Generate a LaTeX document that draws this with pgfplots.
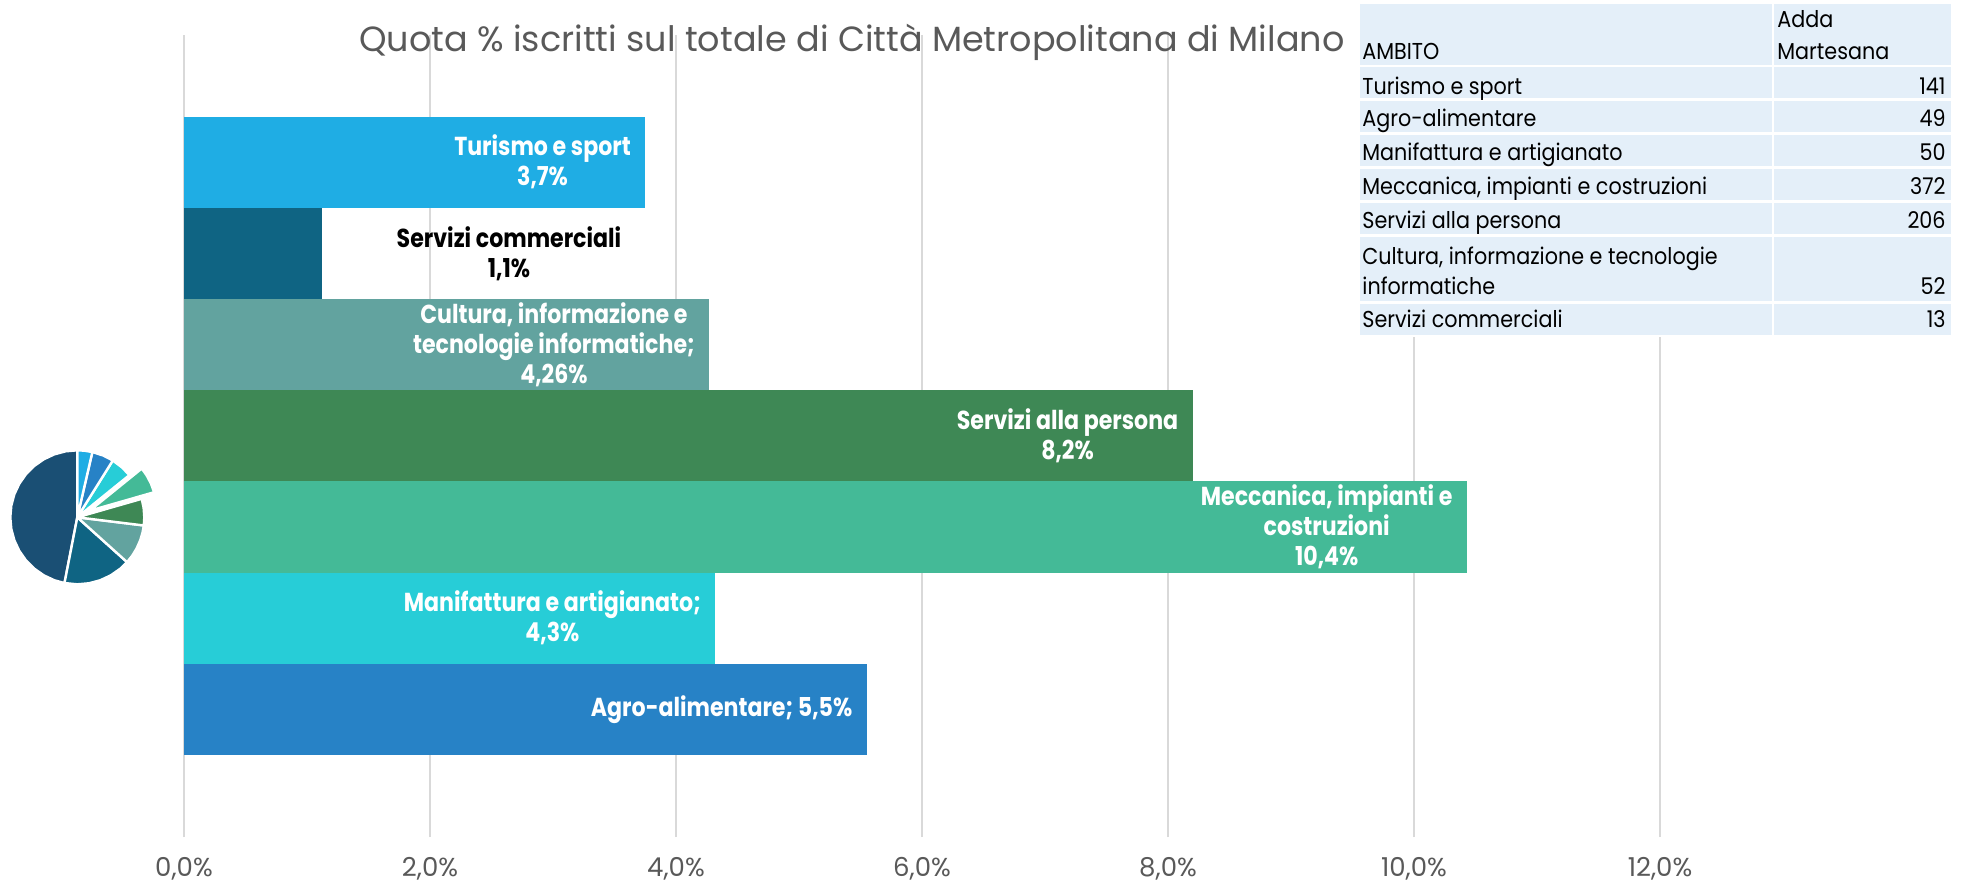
\documentclass[border=0pt]{standalone}
\usepackage{pgfplots}
\pgfplotsset{compat=1.18}
\usepgfplotslibrary{polar}
\usepackage{fontspec}
\setmainfont{Poppins}[FakeStretch=0.9]
\newfontfamily\titlefont{Poppins}
\newfontfamily\tickfont{Poppins}
\newfontfamily\lblfont{Poppins}[FakeStretch=0.85]
\definecolor{cTur}{HTML}{1FADE4}
\definecolor{cSC}{HTML}{0F6483}
\definecolor{cCul}{HTML}{62A39F}
\definecolor{cSP}{HTML}{3E8855}
\definecolor{cMec}{HTML}{44BA97}
\definecolor{cMan}{HTML}{27CDD7}
\definecolor{cAgr}{HTML}{2782C6}
\definecolor{cNavy}{HTML}{1A4F74}
\definecolor{gridgray}{HTML}{D9D9D9}
\definecolor{tickgray}{HTML}{595959}
\definecolor{tbl}{HTML}{E4EFF9}
\begin{document}
\begin{tikzpicture}
\path[use as bounding box] (0,0) rectangle (983pt,442.5pt);
\begin{axis}[
  at={(92pt,24pt)}, anchor=south west,
  scale only axis, width=738pt, height=401pt,
  xmin=0, xmax=12, ymin=-1.4, ymax=7.395,
  xtick={0,2,4,6,8,10,12},
  xticklabels={{0,0\%},{2,0\%},{4,0\%},{6,0\%},{8,0\%},{10,0\%},{12,0\%}},
  ytick=\empty,
  xmajorgrids, major grid style={draw=gridgray, line width=0.75pt},
  axis line style={draw=none}, tick style={draw=none},
  xticklabel style={font=\tickfont\fontsize{13}{15}\selectfont, text=tickgray, anchor=center, yshift=-16pt},
  mybar/.style={xbar, bar shift=0pt, bar width=45.6pt, draw=none},
  lblin/.style={every node near coord/.append style={anchor=east, xshift=-7pt, text=white}},
  every node near coord/.append style={font=\lblfont\bfseries\fontsize{13}{15}\selectfont, align=center, inner sep=0pt},
]
\addplot[mybar, fill=cTur, lblin, nodes near coords={Turismo e sport\\3,7\%}] coordinates {(3.75,6)};
\addplot[mybar, fill=cSC, nodes near coords={Servizi commerciali\\1,1\%},
  every node near coord/.append style={anchor=center, xshift=93.6pt, text=black}] coordinates {(1.12,5)};
\addplot[mybar, fill=cCul, lblin, nodes near coords={Cultura, informazione e\\tecnologie informatiche;\\4,26\%}] coordinates {(4.27,4)};
\addplot[mybar, fill=cSP, lblin, nodes near coords={Servizi alla persona\\8,2\%}] coordinates {(8.20,3)};
\addplot[mybar, fill=cMec, lblin, nodes near coords={Meccanica, impianti e\\costruzioni\\10,4\%}] coordinates {(10.43,2)};
\addplot[mybar, fill=cMan, lblin, nodes near coords={Manifattura e artigianato;\\4,3\%}] coordinates {(4.32,1)};
\addplot[mybar, fill=cAgr, lblin, nodes near coords={Agro-alimentare; 5,5\%}] coordinates {(5.55,0)};
\end{axis}

% pie
\begin{polaraxis}[
  at={(38.65pt,183.85pt)}, anchor=center,
  scale only axis, width=67pt, height=67pt,
  xmin=0, xmax=360, ymin=0, ymax=1, hide axis, clip=false,
  slice/.style={draw=white, line width=1.2pt, line join=round},
]
\addplot[slice, fill=cNavy] coordinates {(0,0) (90,1) (100,1) (110,1) (120,1) (130,1) (140,1) (150,1) (160,1) (170,1) (180,1) (190,1) (200,1) (210,1) (220,1) (230,1) (240,1) (250,1) (259,1)} -- cycle;
\addplot[slice, fill=cSC] coordinates {(0,0) (-101,1) (-90,1) (-80,1) (-70,1) (-60,1) (-50,1) (-42,1)} -- cycle;
\addplot[slice, fill=cCul] coordinates {(0,0) (-42,1) (-35,1) (-28,1) (-20,1) (-13,1) (-7,1)} -- cycle;
\addplot[slice, fill=cSP] coordinates {(0,0) (-7,1) (0,1) (8,1) (16,1)} -- cycle;
\addplot[slice, fill=cMec, xshift=6.2pt, yshift=3.3pt] coordinates {(0,0) (16,1) (24,1) (32,1) (39,1)} -- cycle;
\addplot[slice, fill=cMan] coordinates {(0,0) (39,1) (48,1) (58,1)} -- cycle;
\addplot[slice, fill=cAgr] coordinates {(0,0) (58,1) (67,1) (77,1)} -- cycle;
\addplot[slice, fill=cTur] coordinates {(0,0) (77,1) (84,1) (90,1)} -- cycle;
\end{polaraxis}

% title
\node[anchor=base, font=\titlefont\fontsize{17.5}{20}\selectfont, text=tickgray, inner sep=0pt] at (426pt,416.5pt) {Quota \% iscritti sul totale di Città Metropolitana di Milano};

% table
\fill[white] (679pt,274pt) rectangle (977pt,441.5pt);
\foreach \t/\b in {440.5pt/410.2pt, 409pt/393.3pt, 392.1pt/376.3pt, 375.1pt/359.3pt, 358.1pt/342.3pt, 341.1pt/325.4pt, 324.2pt/291.8pt, 290.6pt/275.2pt}{
  \fill[tbl] (680pt,\b) rectangle (886pt,\t);
  \fill[tbl] (887.2pt,\b) rectangle (975.5pt,\t);
}
\begin{scope}[every node/.style={inner sep=0pt, font=\fontsize{11.5}{15}\selectfont, text=black}]
\node[anchor=base west] at (681pt,412.5pt) {AMBITO};
\node[anchor=base west] at (888.5pt,428.5pt) {Adda};
\node[anchor=base west] at (888.5pt,412.5pt) {Martesana};
\node[anchor=base west] at (681pt,395pt) {Turismo e sport};
\node[anchor=base west] at (681pt,379pt) {Agro-alimentare};
\node[anchor=base west] at (681pt,362pt) {Manifattura e artigianato};
\node[anchor=base west] at (681pt,345.25pt) {Meccanica, impianti e costruzioni};
\node[anchor=base west] at (681pt,328.25pt) {Servizi alla persona};
\node[anchor=base west] at (681pt,310pt) {Cultura, informazione e tecnologie};
\node[anchor=base west] at (681pt,295pt) {informatiche};
\node[anchor=base west] at (681pt,278.5pt) {Servizi commerciali};
\node[anchor=base east] at (973pt,395pt) {141};
\node[anchor=base east] at (973pt,379pt) {49};
\node[anchor=base east] at (973pt,362pt) {50};
\node[anchor=base east] at (973pt,345.25pt) {372};
\node[anchor=base east] at (973pt,328.25pt) {206};
\node[anchor=base east] at (973pt,295pt) {52};
\node[anchor=base east] at (973pt,278.5pt) {13};
\end{scope}
\end{tikzpicture}
\end{document}
